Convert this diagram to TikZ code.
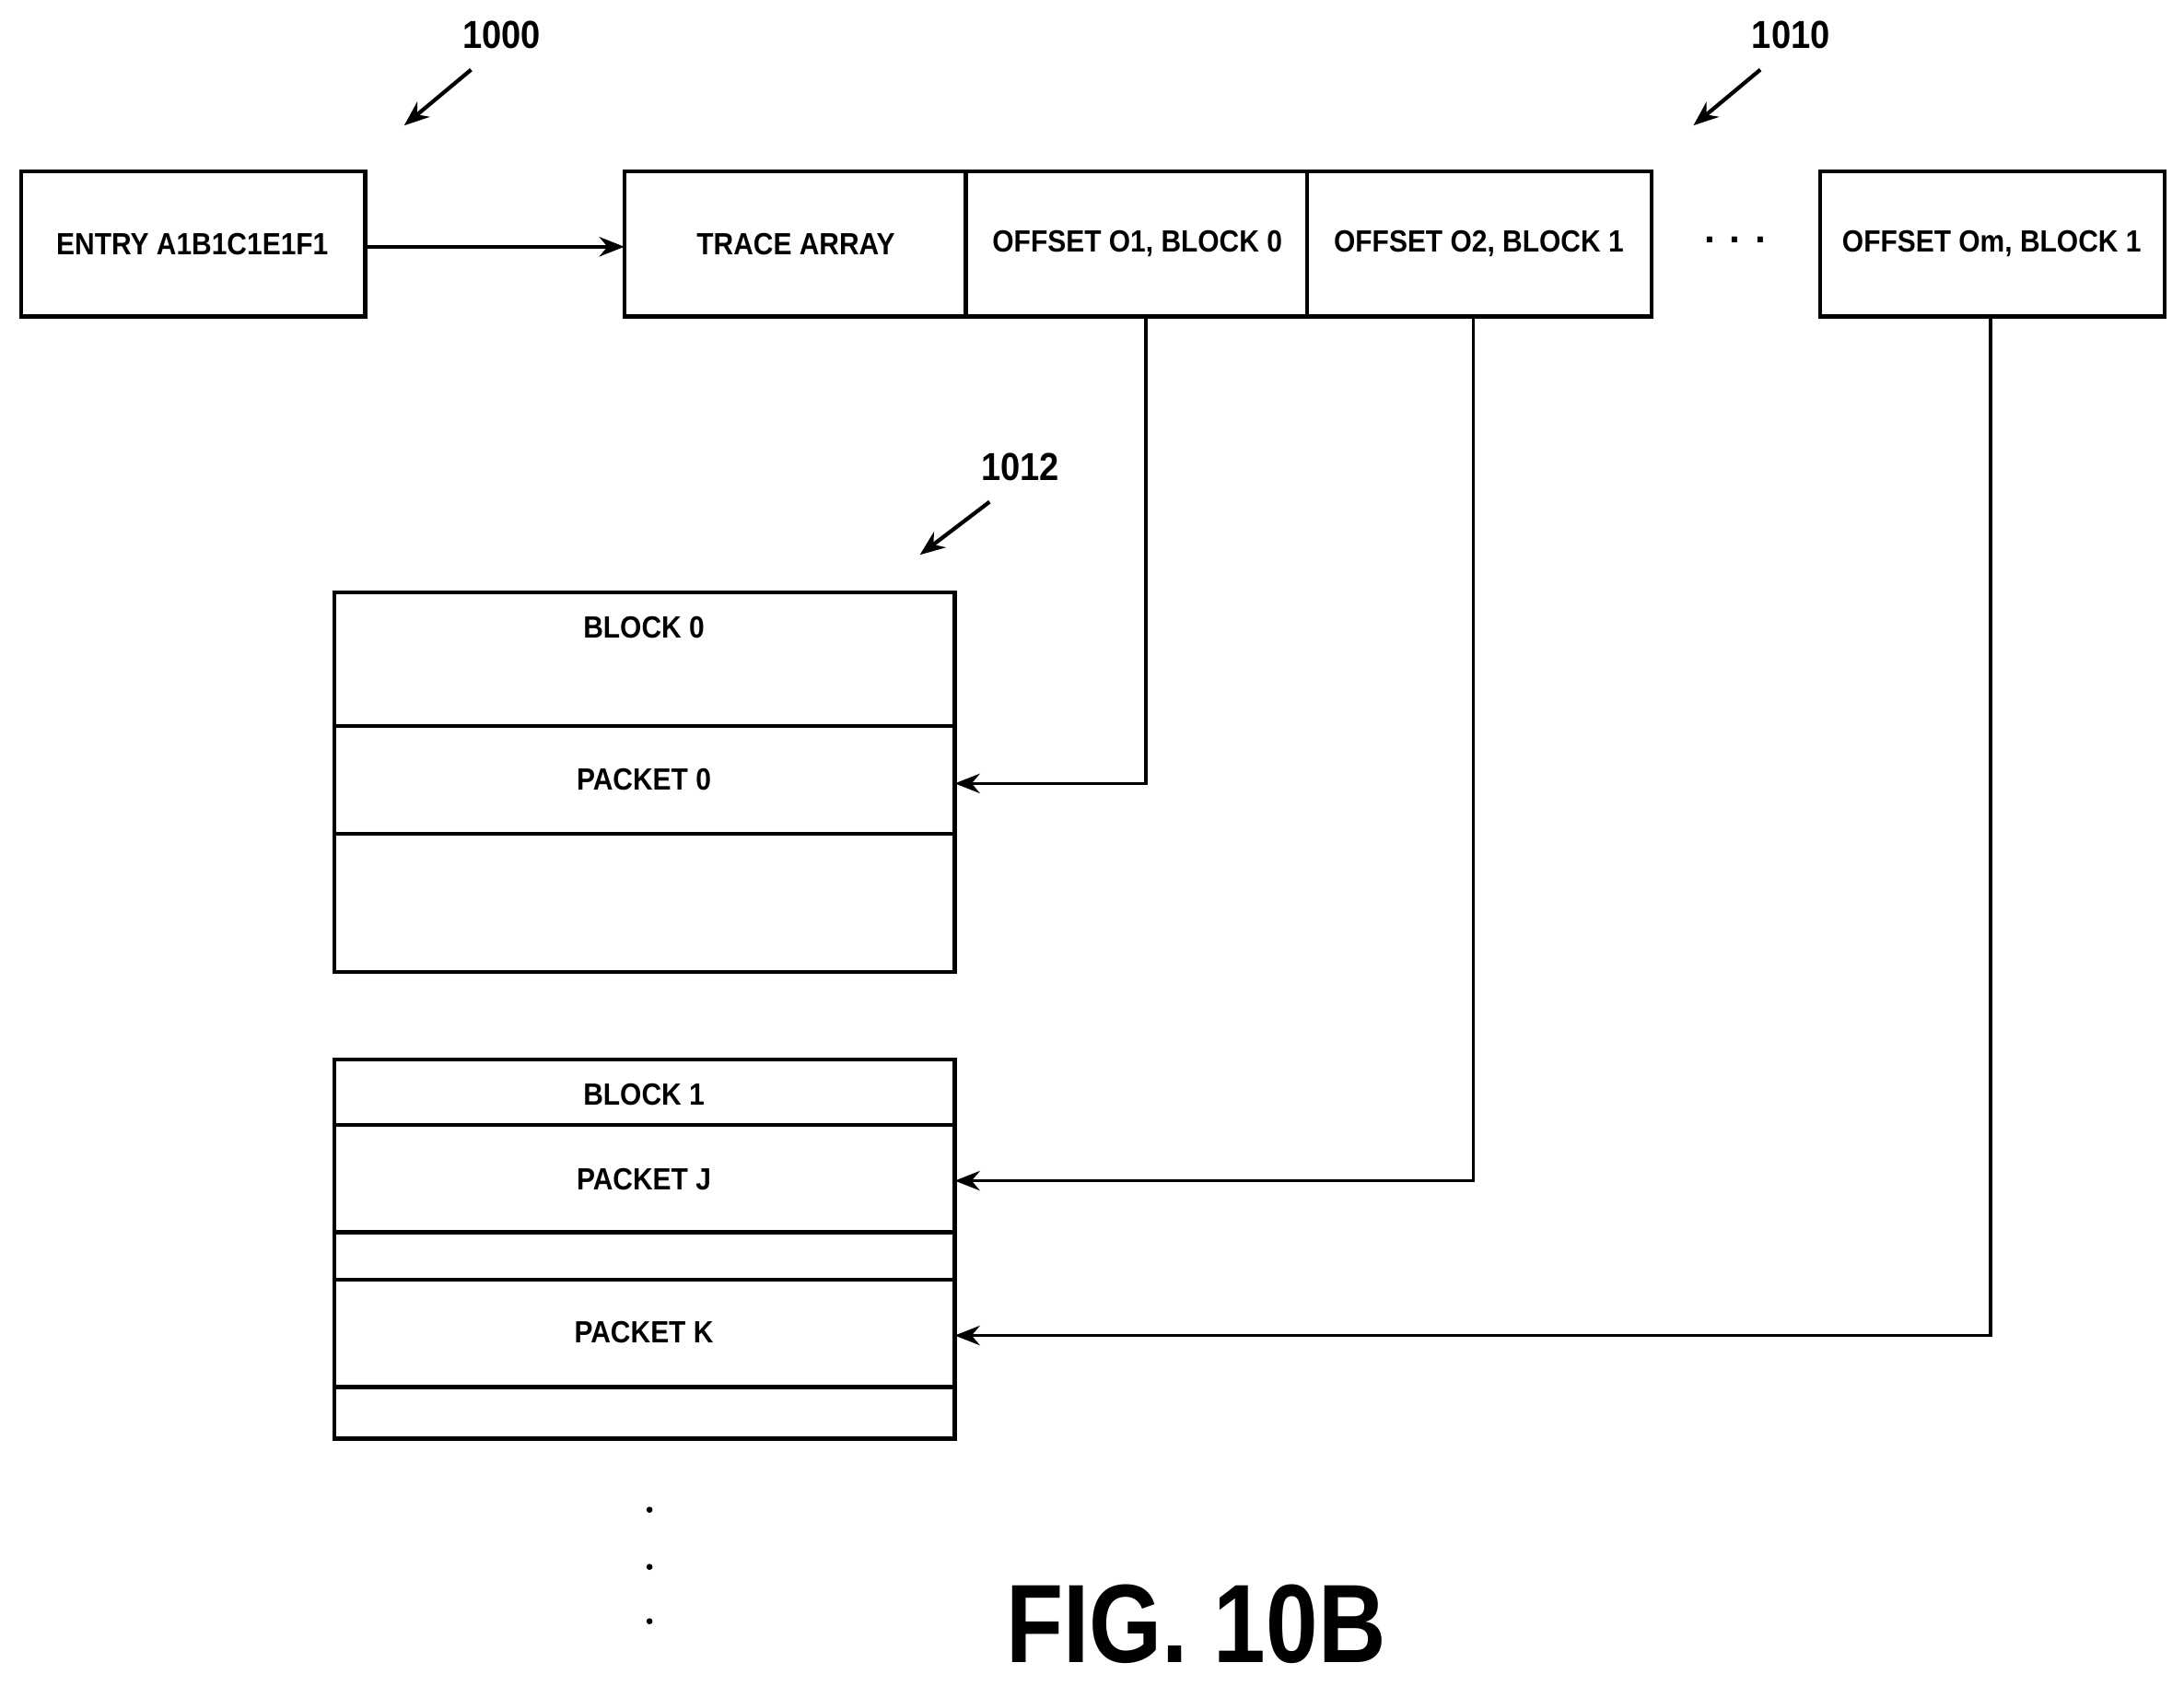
\documentclass[tikz,border=0pt]{standalone}
\usepackage{fontspec}
\setmainfont{Liberation Sans}
\usetikzlibrary{arrows.meta}
\begin{document}
\begin{tikzpicture}[x=0.5pt,y=-0.5pt,
  box/.style={draw,line width=1.4pt},
  lbl/.style={font=\bfseries\fontsize{11}{13}\selectfont,xscale=0.9},
  num/.style={font=\bfseries\fontsize{14}{16}\selectfont,xscale=0.9},
  arr/.style={line width=1.4pt,-{Stealth[length=9pt,width=7pt]}},
  conn/.style={line width=1.2pt,-{Stealth[length=9pt,width=7pt]}}]
\useasboundingbox (0,0) rectangle (1567,1209);
% top row
\draw[box] (15,123) rectangle (262,227);
\node[lbl] (entry) at (138,175) {ENTRY A1B1C1E1F1};
\draw[box] (448,123) rectangle (1185,227);
\draw[box] (693,123) -- (693,227) (938,123) -- (938,227);
\node[lbl] (trace) at (571,175) {TRACE ARRAY};
\node[lbl] (o1) at (816,175) {OFFSET O1, BLOCK 0};
\node[lbl] (o2) at (1061,175) {OFFSET O2, BLOCK 1};
\node[font=\bfseries\fontsize{14}{16}\selectfont] (dots) at (1245,172) {. . .};
\draw[box] (1306,123) rectangle (1553,227);
\node[lbl] (om) at (1429,175) {OFFSET Om, BLOCK 1};
\coordinate (es) at (262,177); \coordinate (te) at (448,177);
\draw[arr] (es) -- (te);
% reference labels
\node[num] (n1000) at (360,25) {1000};
\coordinate (a1) at (338,50); \coordinate (b1) at (290,90);
\draw[arr] (a1) -- (b1);
\node[num] (n1010) at (1285,25) {1010};
\coordinate (a2) at (1263,50); \coordinate (b2) at (1215,90);
\draw[arr] (a2) -- (b2);
\node[num] (n1012) at (732,335) {1012};
\coordinate (a3) at (710,360); \coordinate (b3) at (660,398);
\draw[arr] (a3) -- (b3);
% block 0
\draw[box] (240,425) rectangle (685,697);
\draw[box] (240,521) -- (685,521) (240,598) -- (685,598);
\node[lbl] (b0) at (462,450) {BLOCK 0};
\node[lbl] (p0) at (462,559) {PACKET 0};
% block 1
\draw[box] (240,760) rectangle (685,1032);
\draw[box] (240,807) -- (685,807) (240,884) -- (685,884) (240,918) -- (685,918) (240,995) -- (685,995);
\node[lbl] (b1n) at (462,785) {BLOCK 1};
\node[lbl] (pj) at (462,846) {PACKET J};
\node[lbl] (pk) at (462,956) {PACKET K};
% connectors
\coordinate (o1b) at (822,227); \coordinate (p0r) at (685,562);
\draw[conn] (o1b) |- (p0r);
\coordinate (o2b) at (1057,227); \coordinate (pjr) at (685,847);
\draw[conn] (o2b) |- (pjr);
\coordinate (omb) at (1428,227); \coordinate (pkr) at (685,958);
\draw[conn] (omb) |- (pkr);
% dots
\foreach \yy in {1083,1124,1163} \fill (466,\yy) circle (2.2);
\node[font=\bfseries\fontsize{40}{44}\selectfont,xscale=0.84] (fig) at (858,1165) {FIG. 10B};
\end{tikzpicture}
\end{document}
